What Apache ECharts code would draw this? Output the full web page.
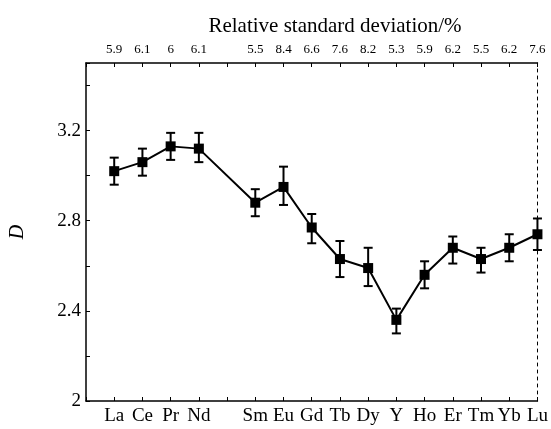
<!DOCTYPE html>
<html>
<head>
    <meta charset="utf-8">
    <title>ECharts</title>
    <script src="https://cdn.jsdelivr.net/npm/echarts@6/dist/echarts.min.js"></script>
</head>
<body style="margin:0;">
    <div id="main" style="width: 551px;height:429px;"></div>
    <script type="text/javascript">
        // slot labels along x, '' where no point (Pm gap)
        var xLabels = ['', 'La', 'Ce', 'Pr', 'Nd', '', 'Sm', 'Eu', 'Gd', 'Tb', 'Dy', 'Y', 'Ho', 'Er', 'Tm', 'Yb', 'Lu'];
        var rsdLabels = ['', '5.9', '6.1', '6', '6.1', '', '5.5', '8.4', '6.6', '7.6', '8.2', '5.3', '5.9', '6.2', '5.5', '6.2', '7.6'];
        var elements = ['La', 'Ce', 'Pr', 'Nd', 'Sm', 'Eu', 'Gd', 'Tb', 'Dy', 'Y', 'Ho', 'Er', 'Tm', 'Yb', 'Lu'];
        var dValues = [3.02, 3.06, 3.13, 3.12, 2.88, 2.95, 2.77, 2.63, 2.59, 2.36, 2.56, 2.68, 2.63, 2.68, 2.74];
        var dLow = [2.96, 3.00, 3.07, 3.06, 2.82, 2.87, 2.70, 2.55, 2.51, 2.30, 2.50, 2.61, 2.57, 2.62, 2.67];
        var dHigh = [3.08, 3.12, 3.19, 3.19, 2.94, 3.04, 2.83, 2.71, 2.68, 2.41, 2.62, 2.73, 2.68, 2.74, 2.81];

        var font = 'Liberation Serif';
        var lineData = elements.map(function (e, i) {
            return [xLabels.indexOf(e), dValues[i]];
        });
        var errData = elements.map(function (e, i) {
            return [xLabels.indexOf(e), dLow[i], dHigh[i]];
        });

        var myChart = echarts.init(document.getElementById('main'));
        var xCommon = {
            type: 'value',
            min: 0,
            max: 16,
            interval: 1,
            splitLine: { show: false },
            axisLine: { lineStyle: { color: '#000', width: 1.5 } },
            axisTick: { inside: true, length: 4, lineStyle: { color: '#000' } }
        };
        var option = {
            animation: false,
            title: {
                text: 'Relative standard deviation/%',
                left: 330,
                textAlign: 'center',
                top: 11,
                textStyle: { fontFamily: font, fontSize: 21, fontWeight: 'normal', color: '#000' }
            },
            grid: { left: 84, right: 11, top: 63, bottom: 28 },
            xAxis: [
                Object.assign({}, xCommon, {
                    position: 'bottom',
                    axisLabel: {
                        margin: 6,
                        fontFamily: font, fontSize: 19, color: '#000',
                        showMinLabel: true, showMaxLabel: true,
                        formatter: function (v) { return xLabels[v] || ''; }
                    }
                }),
                Object.assign({}, xCommon, {
                    position: 'top',
                    axisLabel: {
                        margin: 7,
                        fontFamily: font, fontSize: 13, color: '#000',
                        showMinLabel: true, showMaxLabel: true,
                        formatter: function (v) { return rsdLabels[v] || ''; }
                    }
                })
            ],
            yAxis: [{
                type: 'value',
                min: 2,
                max: 3.5,
                interval: 0.4,
                name: 'D',
                nameLocation: 'middle',
                nameGap: 58,
                nameTextStyle: { fontFamily: font, fontSize: 20, fontStyle: 'italic', color: '#000' },
                splitLine: { show: false },
                axisLine: { show: true, onZero: false, lineStyle: { color: '#000', width: 1.5 } },
                axisTick: { inside: true, length: 4, lineStyle: { color: '#000' } },
                minorTick: { show: true, splitNumber: 2, length: 4, lineStyle: { color: '#000' } },
                axisLabel: { margin: 5, fontFamily: font, fontSize: 19, color: '#000', showMaxLabel: false }
            }, {
                type: 'value',
                min: 2,
                max: 3.5,
                position: 'right',
                splitLine: { show: false },
                axisLine: { show: true, onZero: false, lineStyle: { color: '#000', width: 1, type: [3, 4] } },
                axisTick: { show: false },
                axisLabel: { show: false }
            }],
            series: [{
                type: 'custom',
                data: errData,
                z: 3,
                renderItem: function (params, api) {
                    var x = api.value(0);
                    var lo = api.coord([x, api.value(1)]);
                    var hi = api.coord([x, api.value(2)]);
                    var w = 4.5;
                    var st = { stroke: '#000', lineWidth: 2 };
                    return {
                        type: 'group',
                        children: [
                            { type: 'line', shape: { x1: lo[0], y1: lo[1], x2: hi[0], y2: hi[1] }, style: st },
                            { type: 'line', shape: { x1: lo[0] - w, y1: lo[1], x2: lo[0] + w, y2: lo[1] }, style: st },
                            { type: 'line', shape: { x1: hi[0] - w, y1: hi[1], x2: hi[0] + w, y2: hi[1] }, style: st }
                        ]
                    };
                }
            }, {
                type: 'line',
                data: lineData,
                z: 4,
                symbol: 'rect',
                symbolSize: 10,
                itemStyle: { color: '#000' },
                lineStyle: { color: '#000', width: 2 }
            }]
        };
        myChart.setOption(option);
    </script>
</body>
</html>
